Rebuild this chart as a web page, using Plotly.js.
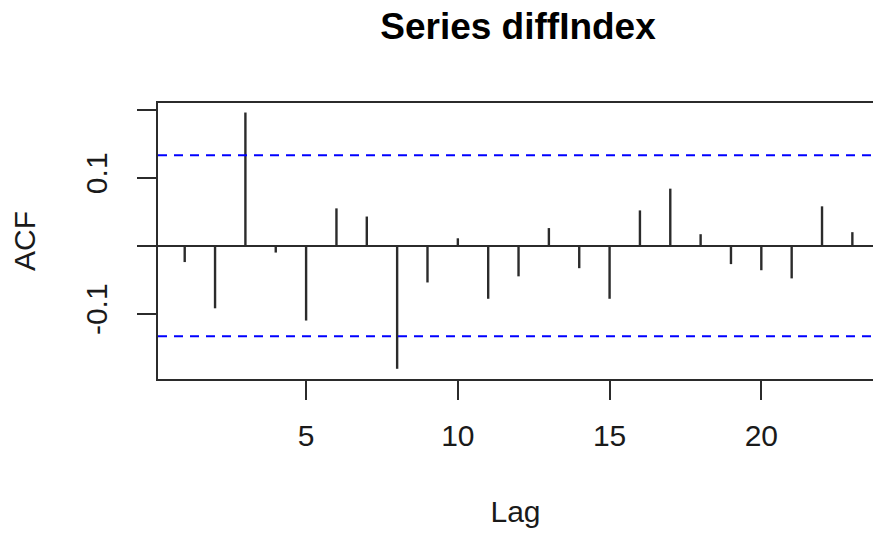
<!DOCTYPE html>
<html>
<head>
<meta charset="utf-8">
<script src="https://cdn.plot.ly/plotly-3.0.1.min.js"></script>
<style>
  html, body { margin: 0; padding: 0; background: #fff; overflow: hidden; }
  #chart { width: 873px; height: 535px; }
</style>
</head>
<body>
<div id="chart"></div>
<script>
// Autocorrelation of the differenced index, lags 1..23
const lags = [1, 2, 3, 4, 5, 6, 7, 8, 9, 10, 11, 12, 13, 14, 15, 16, 17, 18, 19, 20, 21, 22, 23];
const acfValues = [-0.024, -0.092, 0.196, -0.010, -0.110, 0.055, 0.043, -0.181, -0.054, 0.011,
                   -0.078, -0.045, 0.026, -0.033, -0.078, 0.052, 0.084, 0.017, -0.027, -0.036,
                   -0.048, 0.058, 0.020];
// 95% confidence bound for white noise
const confBound = 0.133;
const xTicks = [5, 10, 15, 20];
const yTicks = [-0.1, 0, 0.1, 0.2];
const yTickText = ["-0.1", "", "0.1", ""];

const ink = "#2b2b2b";
const font = "Liberation Sans, Arial, sans-serif";

// vertical spikes from zero to each autocorrelation
const spikeX = [], spikeY = [];
lags.forEach((lag, i) => {
  spikeX.push(lag, lag, null);
  spikeY.push(0, acfValues[i], null);
});

const traces = [{
  type: "scatter",
  mode: "lines",
  x: spikeX,
  y: spikeY,
  line: { color: ink, width: 2.4 },
  hoverinfo: "skip",
  showlegend: false
}];

const boundLine = (v) => ({
  type: "line", xref: "paper", x0: 0, x1: 1, yref: "y", y0: v, y1: v,
  line: { color: "#0000ff", width: 2, dash: "9px,7px" }
});

const layout = {
  width: 873,
  height: 535,
  margin: { l: 158, r: 0, t: 103, b: 156 },
  paper_bgcolor: "#ffffff",
  plot_bgcolor: "#ffffff",
  showlegend: false,
  title: {
    text: "Series diffIndex",
    font: { family: font, size: 37, color: "#000000", weight: "bold" },
    xref: "container", x: 518 / 873, xanchor: "center",
    yref: "container", y: 1 - 26 / 535, yanchor: "middle"
  },
  xaxis: {
    range: [0.12, 23.68],
    tickvals: xTicks,
    ticktext: xTicks.map(String),
    ticks: "outside", ticklen: 19, tickwidth: 2, tickcolor: ink,
    ticklabelstandoff: 10,
    showline: true, linecolor: ink, linewidth: 2, mirror: true,
    showgrid: false, zeroline: false,
    tickfont: { family: font, size: 30, color: "#1a1a1a" },
    title: { text: "Lag", font: { family: font, size: 30, color: "#1a1a1a" }, standoff: 50 }
  },
  yaxis: {
    range: [-0.196, 0.210],
    tickvals: yTicks,
    ticktext: yTickText,
    tickangle: -90,
    ticks: "outside", ticklen: 19, tickwidth: 2, tickcolor: ink,
    ticklabelstandoff: 18,
    showline: true, linecolor: ink, linewidth: 2, mirror: false,
    showgrid: false,
    zeroline: true, zerolinecolor: ink, zerolinewidth: 2,
    tickfont: { family: font, size: 30, color: "#1a1a1a" },
    title: { text: "ACF", font: { family: font, size: 30, color: "#1a1a1a" }, standoff: 36 }
  },
  shapes: [boundLine(confBound), boundLine(-confBound)]
};

Plotly.newPlot("chart", traces, layout, { displayModeBar: false, staticPlot: true });
</script>
</body>
</html>
